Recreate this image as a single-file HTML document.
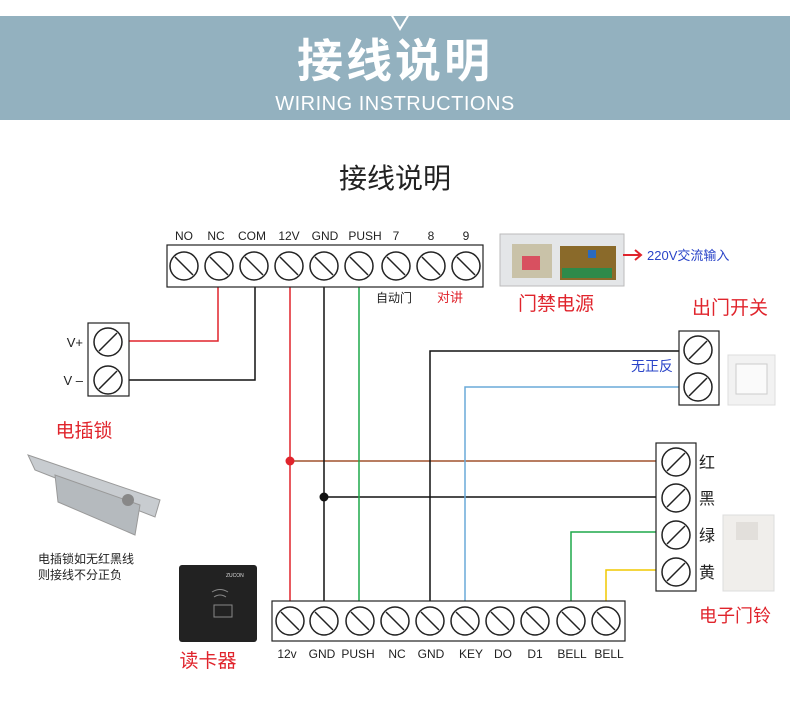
<!DOCTYPE html>
<html><head><meta charset="utf-8"><style>
body{margin:0;width:790px;height:714px;background:#fff;overflow:hidden;font-family:"Liberation Sans","Noto Sans CJK SC",sans-serif}
</style></head><body>
<svg width="790" height="714" xmlns="http://www.w3.org/2000/svg" font-family="Liberation Sans, Noto Sans CJK SC, sans-serif">
<defs>
<g id="sb"><circle r="14" fill="#fff" stroke="#222" stroke-width="1.5"/><line x1="-9" y1="-9" x2="9" y2="9" stroke="#222" stroke-width="1.5"/></g>
<g id="sf"><circle r="14" fill="#fff" stroke="#222" stroke-width="1.5"/><line x1="-9" y1="9" x2="9" y2="-9" stroke="#222" stroke-width="1.5"/></g>
</defs>
<rect x="0" y="16" width="790" height="104" fill="#93b1bf"/>
<polygon points="391,14 409,14 400,29" fill="none" stroke="#fff" stroke-width="2"/>
<text x="395" y="77" text-anchor="middle" font-size="46" font-weight="bold" fill="#fff" font-family="Noto Sans CJK SC, sans-serif" letter-spacing="3">接线说明</text>
<text x="395" y="110" text-anchor="middle" font-size="20" fill="#fff" letter-spacing="0.5">WIRING INSTRUCTIONS</text>
<text x="395" y="188" text-anchor="middle" font-size="28" fill="#222" font-family="Noto Sans CJK SC, sans-serif">接线说明</text>

<!-- wires -->
<g fill="none" stroke-width="1.5">
<polyline points="218,287 218,341 122,341" stroke="#e0242c"/>
<polyline points="255,287 255,380 122,380" stroke="#111"/>
<line x1="290" y1="287" x2="290" y2="605" stroke="#e0242c"/>
<line x1="290" y1="461" x2="662" y2="461" stroke="#a0522d"/>
<line x1="324" y1="287" x2="324" y2="605" stroke="#111"/>
<line x1="324" y1="497" x2="662" y2="497" stroke="#111"/>
<line x1="359" y1="287" x2="359" y2="605" stroke="#1ea84a"/>
<polyline points="430,605 430,351 684,351" stroke="#111"/>
<polyline points="465,605 465,387 684,387" stroke="#6aaad8"/>
<polyline points="571,605 571,532 662,532" stroke="#1ea84a"/>
<polyline points="606,605 606,570 662,570" stroke="#f0c800"/>
</g>
<circle cx="290" cy="461" r="4.5" fill="#e0242c"/>
<circle cx="324" cy="497" r="4.5" fill="#111"/>

<!-- top block -->
<rect x="167" y="245" width="316" height="42" fill="#fff" stroke="#222" stroke-width="1.2"/>
<g font-size="12" fill="#222" text-anchor="middle">
<text x="184" y="240">NO</text><text x="216" y="240">NC</text><text x="252" y="240">COM</text><text x="289" y="240">12V</text><text x="325" y="240">GND</text><text x="365" y="240">PUSH</text><text x="396" y="240">7</text><text x="431" y="240">8</text><text x="466" y="240">9</text>
</g>
<use href="#sb" x="184" y="266"/><use href="#sb" x="219" y="266"/><use href="#sb" x="254" y="266"/><use href="#sb" x="289" y="266"/><use href="#sb" x="324" y="266"/><use href="#sb" x="359" y="266"/><use href="#sb" x="396" y="266"/><use href="#sb" x="431" y="266"/><use href="#sb" x="466" y="266"/>
<text x="394" y="302" font-size="12" fill="#222" text-anchor="middle">自动门</text>
<text x="450" y="302" font-size="13" fill="#e0242c" text-anchor="middle">对讲</text>

<!-- power supply image -->
<rect x="500" y="234" width="124" height="52" fill="#e4e6e8" stroke="#bbb"/>
<rect x="512" y="244" width="40" height="34" fill="#c9c2a8"/>
<rect x="522" y="256" width="18" height="14" fill="#d85060"/>
<rect x="560" y="246" width="56" height="34" fill="#8a6a2a"/>
<rect x="562" y="268" width="50" height="10" fill="#2e8a4a"/>
<rect x="588" y="250" width="8" height="8" fill="#2a6ac0"/>
<line x1="623" y1="255" x2="640" y2="255" stroke="#e0242c" stroke-width="2"/>
<polyline points="635,250 641,255 635,260" fill="none" stroke="#e0242c" stroke-width="2"/>
<text x="647" y="260" font-size="13" fill="#2a44c8">220V交流输入</text>
<text x="556" y="310" font-size="19" fill="#e0242c" text-anchor="middle">门禁电源</text>
<text x="730" y="314" font-size="19" fill="#e0242c" text-anchor="middle">出门开关</text>

<!-- left block -->
<rect x="88" y="323" width="41" height="73" fill="#fff" stroke="#222" stroke-width="1.2"/>
<use href="#sf" x="108" y="342"/><use href="#sf" x="108" y="380"/>
<text x="83" y="347" font-size="13" fill="#222" text-anchor="end">V+</text>
<text x="83" y="385" font-size="13" fill="#222" text-anchor="end">V –</text>

<!-- exit switch block -->
<rect x="679" y="331" width="40" height="74" fill="#fff" stroke="#222" stroke-width="1.2"/>
<use href="#sf" x="698" y="350"/><use href="#sf" x="698" y="387"/>
<text x="652" y="371" font-size="14" fill="#2a44c8" text-anchor="middle">无正反</text>
<rect x="728" y="355" width="47" height="50" fill="#f2f2f2" stroke="#ddd"/>
<rect x="736" y="364" width="31" height="30" fill="#fafafa" stroke="#ccc"/>

<!-- lock -->
<text x="84" y="437" font-size="19" fill="#e0242c" text-anchor="middle">电插锁</text>
<polygon points="28,455 160,500 155,517 35,470" fill="#c8ccd0" stroke="#999"/>
<polygon points="55,475 140,505 135,535 58,502" fill="#b5babe" stroke="#999"/>
<circle cx="128" cy="500" r="6" fill="#888"/>
<text x="38" y="563" font-size="12" fill="#222">电插锁如无红黑线</text>
<text x="38" y="579" font-size="12" fill="#222">则接线不分正负</text>

<!-- card reader -->
<rect x="179" y="565" width="78" height="77" rx="3" fill="#222"/>
<text x="226" y="577" font-size="5" fill="#ddd">ZUCON</text>
<path d="M212,592 q8,-5 16,0 M214,597 q6,-4 12,0" stroke="#888" fill="none"/>
<rect x="214" y="605" width="18" height="12" fill="none" stroke="#888"/>
<text x="208" y="667" font-size="19" fill="#e0242c" text-anchor="middle">读卡器</text>

<!-- bell block -->
<rect x="656" y="443" width="40" height="148" fill="#fff" stroke="#222" stroke-width="1.2"/>
<use href="#sf" x="676" y="462"/><use href="#sf" x="676" y="498"/><use href="#sf" x="676" y="535"/><use href="#sf" x="676" y="572"/>
<g font-size="16" fill="#222"><text x="699" y="468">红</text><text x="699" y="504">黑</text><text x="699" y="541">绿</text><text x="699" y="578">黄</text></g>
<rect x="723" y="515" width="51" height="76" fill="#f0eeeb" stroke="#ddd"/>
<rect x="736" y="522" width="22" height="18" fill="#e2dfdb"/>
<text x="735" y="622" font-size="18" fill="#e0242c" text-anchor="middle">电子门铃</text>

<!-- bottom block -->
<rect x="272" y="601" width="353" height="40" fill="#fff" stroke="#222" stroke-width="1.2"/>
<use href="#sb" x="290" y="621"/><use href="#sb" x="324" y="621"/><use href="#sb" x="360" y="621"/><use href="#sb" x="395" y="621"/><use href="#sb" x="430" y="621"/><use href="#sb" x="465" y="621"/><use href="#sb" x="500" y="621"/><use href="#sb" x="535" y="621"/><use href="#sb" x="571" y="621"/><use href="#sb" x="606" y="621"/>
<g font-size="12" fill="#222" text-anchor="middle">
<text x="287" y="658">12v</text><text x="322" y="658">GND</text><text x="358" y="658">PUSH</text><text x="397" y="658">NC</text><text x="431" y="658">GND</text><text x="471" y="658">KEY</text><text x="503" y="658">DO</text><text x="535" y="658">D1</text><text x="572" y="658">BELL</text><text x="609" y="658">BELL</text>
</g>
</svg>
</body></html>
